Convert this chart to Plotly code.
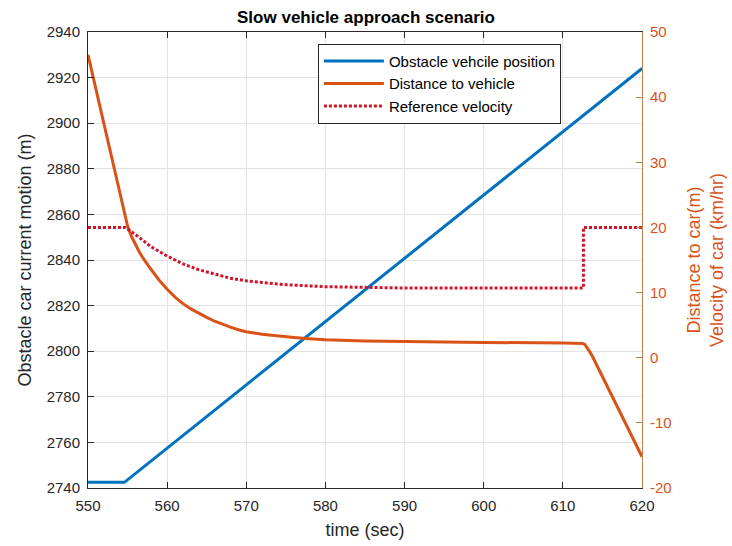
import plotly.graph_objects as go

# obstacle vehicle position (left axis)
t_pos = [550, 554.6, 620]
pos = [2742.5, 2742.5, 2924]

# distance to vehicle (right axis)
t_dist = [550, 552, 554, 555, 555.5, 556, 556.5, 557, 557.5, 558, 559, 560, 561, 562,
          563, 564, 565, 566, 567, 568, 569, 570, 572, 574, 576, 578, 580, 585,
          590, 600, 610, 612.5, 612.8, 613.1, 613.4, 613.7, 620]
dist = [46.5, 36.0, 25.5, 20.2, 18.6, 17.3, 16.2, 15.2, 14.3, 13.5, 11.9, 10.5, 9.3, 8.3,
        7.5, 6.8, 6.2, 5.6, 5.1, 4.7, 4.3, 4.0, 3.6, 3.3, 3.1, 2.9, 2.75, 2.55,
        2.45, 2.35, 2.25, 2.2, 2.0, 1.5, 0.9, 0.3, -15.2]

# reference velocity (right axis)
t_vel = [550, 554.7, 556, 557, 558, 560, 562, 564, 566, 568, 570, 575, 580, 585,
         590, 612.6, 612.6, 620]
vel = [20, 20, 18.9, 17.9, 17.0, 15.6, 14.4, 13.5, 12.8, 12.2, 11.8, 11.2, 10.9, 10.75,
       10.7, 10.7, 20, 20]

# right axis ticks (MATLAB style hyphen minus)
r_ticks = [-20, -10, 0, 10, 20, 30, 40, 50]
r_labels = ["-20", "-10", "0", "10", "20", "30", "40", "50"]

BLUE = "#0072BD"
ORANGE = "#D95319"
RED = "#D0142C"
AXC = "#262626"
FONT = "Liberation Sans, Arial, sans-serif"

fig = go.Figure()
fig.add_trace(go.Scatter(x=t_pos, y=pos, mode="lines", name="Obstacle vehcile position",
                         line=dict(color=BLUE, width=3)))
fig.add_trace(go.Scatter(x=t_dist, y=dist, mode="lines", name="Distance to vehicle",
                         line=dict(color=ORANGE, width=3), yaxis="y2"))
fig.add_trace(go.Scatter(x=t_vel, y=vel, mode="lines", name="Reference velocity",
                         line=dict(color=RED, width=3, dash="3px,2px"), yaxis="y2"))

fig.update_layout(
    width=732, height=546,
    margin=dict(l=88, r=90, t=32, b=58),
    paper_bgcolor="white", plot_bgcolor="white",
    font=dict(family=FONT, size=15, color=AXC),
    title=dict(text="Slow vehicle approach scenario", x=0.5, xanchor="center",
               y=0.968, yanchor="middle",
               font=dict(size=17, weight="bold", color="black")),
    xaxis=dict(range=[550, 620], dtick=10, ticks="inside", ticklen=6, tickcolor=AXC,
               showline=True, linecolor=AXC, linewidth=1, mirror="ticks",
               showgrid=True, gridcolor="#E3E3E3", zeroline=False,
               ticklabelstandoff=4, automargin=False,
               title=dict(text="time (sec)", standoff=10, font=dict(size=18))),
    yaxis=dict(range=[2740, 2940], dtick=20, ticks="inside", ticklen=6, tickcolor=AXC,
               showline=True, linecolor=AXC, linewidth=1,
               showgrid=True, gridcolor="#E3E3E3", zeroline=False,
               ticklabelstandoff=4, automargin=False,
               title=dict(text="Obstacle car current motion (m)", standoff=10,
                          font=dict(size=18))),
    yaxis2=dict(range=[-20, 50], tickvals=r_ticks, ticktext=r_labels,
                overlaying="y", side="right",
                ticks="inside", ticklen=6, tickcolor="#C08050",
                showline=True, linecolor="#C08050", linewidth=1,
                showgrid=False, zeroline=False,
                ticklabelstandoff=4, automargin=False,
                tickfont=dict(color=ORANGE),
                title=dict(text="Distance to car(m)<br>Velocity of car (km/hr)",
                           font=dict(color=ORANGE, size=18), standoff=16)),
    legend=dict(x=0.415, y=0.974, xanchor="left", yanchor="top",
                bgcolor="white", bordercolor=AXC, borderwidth=1,
                font=dict(size=15, color="black"), tracegroupgap=0,
                itemwidth=60),
    showlegend=True,
)

fig.write_html("out.html", config={"displayModeBar": False},
               post_script="document.body.style.margin='0px';")
